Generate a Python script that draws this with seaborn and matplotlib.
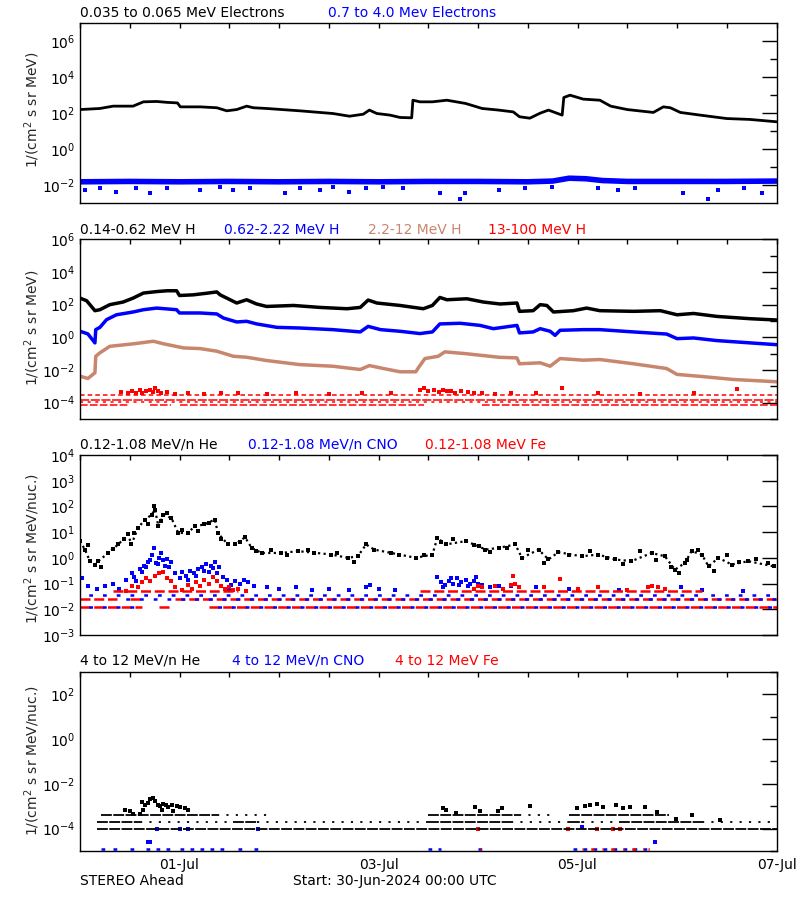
import numpy as np
import seaborn as sns
import matplotlib.pyplot as plt
from matplotlib.ticker import FixedLocator, FuncFormatter, NullFormatter, MultipleLocator

# hours since 30-Jun-2024 00:00 UTC, values as log10 of flux
# --- panel 1: electrons
e_lo_t = [0, 4.8, 8, 12.8, 15.3, 18.5, 21, 23.5, 24.2, 29, 33, 35.4, 37.8, 40.2, 41.8, 45, 53, 61, 65,
          68.3, 69.8, 71.6, 74.8, 77.2, 80, 80.3, 82, 85, 88.5, 93, 97, 101, 104.5, 106, 108.5, 111, 113,
          115, 116.3, 116.7, 118.2, 121.4, 125.4, 128, 132, 138.3, 140.7, 142.4, 144.8, 149.6, 156, 161.6, 168]
e_lo_v = [2.2, 2.26, 2.39, 2.39, 2.63, 2.65, 2.6, 2.57, 2.35, 2.35, 2.3, 2.13, 2.2, 2.39, 2.3, 2.26, 2.13,
          1.98, 1.83, 1.94, 2.17, 1.98, 1.89, 1.76, 1.74, 2.72, 2.63, 2.63, 2.72, 2.54, 2.26, 2.17, 2.07, 1.8,
          1.72, 2.0, 2.17, 2.0, 1.89, 2.87, 3.0, 2.78, 2.72, 2.39, 2.2, 2.04, 2.35, 2.3, 2.04, 1.89, 1.70, 1.65, 1.52]
e_hi_t = [0, 12, 24, 36, 48, 60, 72, 84, 96, 108, 114, 118, 122, 126, 132, 144, 156, 168]
e_hi_v = [-1.82, -1.8, -1.82, -1.8, -1.82, -1.8, -1.82, -1.8, -1.8, -1.82, -1.78, -1.62, -1.65, -1.75,
          -1.8, -1.8, -1.8, -1.78]
e_hi_sc_t = [1.2, 4.8, 8.8, 13.6, 16.9, 20.9, 29, 33.8, 37, 41, 49.4, 53, 57.9, 61, 65, 69, 73, 78, 86.8,
             91.7, 92.9, 101, 107.3, 113.8, 125, 129.8, 133.8, 145.4, 151.4, 153.8, 160.2, 164.6]
e_hi_sc_v = [-2.28, -2.19, -2.37, -2.19, -2.46, -2.19, -2.28, -2.09, -2.28, -2.19, -2.46, -2.19, -2.28,
             -2.09, -2.37, -2.19, -2.09, -2.19, -2.46, -2.8, -2.46, -2.28, -2.19, -2.09, -2.19, -2.28,
             -2.19, -2.46, -2.8, -2.28, -2.19, -2.46]

# --- panel 2: protons
h1_t = [0, 1.6, 3.6, 4.8, 7.2, 10.4, 12.8, 15.3, 18.5, 21, 23.3, 24, 27.3, 30.6, 33, 33.8, 36.2, 37.8,
        40.2, 42.6, 45, 51.5, 57.9, 64.4, 67.6, 69.5, 71.6, 77.2, 82.8, 85, 86.8, 88.5, 93.3, 97.3, 101.3,
        105.4, 106, 109.3, 111, 112.6, 114.2, 119, 122.2, 125.4, 133.5, 140, 144, 148, 153.6, 161.6, 168]
h1_v = [2.40, 2.24, 1.63, 1.69, 2.0, 2.16, 2.40, 2.71, 2.80, 2.85, 2.85, 2.56, 2.6, 2.7, 2.78, 2.6, 2.30,
        2.10, 2.30, 2.04, 1.89, 1.95, 1.83, 1.75, 1.83, 2.28, 2.10, 1.95, 1.75, 1.95, 2.44, 2.3, 2.36, 2.16,
        2.04, 2.10, 1.59, 1.63, 2.0, 1.95, 1.55, 1.63, 1.79, 1.63, 1.59, 1.63, 1.38, 1.46, 1.28, 1.14, 1.06]
h2_t = [0, 1.9, 3.6, 3.8, 4.8, 6.4, 8.8, 12.8, 15.3, 18.5, 23.3, 24, 29, 33, 34.6, 37.8, 40.2, 42.6, 47.5,
        53, 61, 67.6, 69.5, 72.5, 77.2, 82, 85, 86.8, 91.7, 96.5, 99.7, 105.4, 106, 109.3, 111, 113.4, 114.6,
        115.8, 121.4, 125.4, 133.5, 141.5, 144, 148, 153.6, 161.6, 168]
h2_v = [0.37, 0.21, -0.34, 0.47, 0.61, 1.08, 1.38, 1.55, 1.69, 1.79, 1.69, 1.49, 1.49, 1.43, 1.18, 0.94,
        0.98, 0.82, 0.61, 0.57, 0.47, 0.33, 0.67, 0.47, 0.37, 0.23, 0.33, 0.82, 0.86, 0.73, 0.53, 0.73, 0.27,
        0.33, 0.53, 0.37, 0.12, 0.43, 0.47, 0.47, 0.33, 0.20, -0.08, -0.04, -0.2, -0.34, -0.45]
h3_t = [0, 1.9, 3.6, 3.8, 4.8, 7.2, 12.8, 17.7, 20.2, 25, 29, 33, 37, 40.2, 45, 53, 61, 67.6, 69.8, 73.2,
        77.2, 81, 81.6, 83.2, 86.4, 88, 93, 101, 105.4, 106, 111, 113.4, 115.8, 121.4, 125.4, 133.5, 141.5,
        144, 149.6, 157.6, 168]
h3_v = [-2.38, -2.52, -2.17, -1.16, -0.95, -0.55, -0.40, -0.24, -0.40, -0.65, -0.69, -0.85, -1.16, -1.22,
        -1.42, -1.67, -1.77, -1.97, -1.73, -1.91, -2.11, -2.11, -1.87, -1.30, -1.16, -0.89, -1.0, -1.22,
        -1.26, -1.62, -1.56, -1.77, -1.30, -1.40, -1.36, -1.62, -1.91, -2.27, -2.39, -2.58, -2.72]
h4_levels = [-3.54, -3.84, -3.94, -4.15]
h4_spans = [[(0, 168)], [(0, 168)], [(0, 168)], [(0, 11.5), (17, 22), (24, 83), (97, 168)]]
h4_t = [10, 11.5, 12.5, 13.5, 14.5, 15, 16, 16.8, 17.5, 18, 18.8, 19.5, 21, 23, 26, 30, 34, 38, 45, 52,
        60, 68, 75, 82, 83, 84, 85.5, 86.5, 87.5, 88.5, 89.5, 90.5, 92, 93.5, 95, 97, 100, 104, 110, 116.3,
        125, 135, 148, 158.5]
h4_v = [-3.35, -3.42, -3.3, -3.38, -3.25, -3.4, -3.3, -3.22, -3.35, -3.13, -3.3, -3.4, -3.35, -3.45, -3.42,
        -3.45, -3.4, -3.42, -3.45, -3.42, -3.45, -3.4, -3.42, -3.2, -3.1, -3.3, -3.25, -3.35, -3.2, -3.3,
        -3.28, -3.4, -3.3, -3.35, -3.42, -3.4, -3.45, -3.4, -3.42, -3.13, -3.42, -3.45, -3.42, -3.15]

# --- panel 3: 0.12-1.08 MeV/n heavy ions
he_t = [0, 1.2, 2.4, 3.6, 4.4, 6.8, 9.2, 11.6, 12.4, 14, 15.7, 17.3, 18.1, 18.9, 20.1, 22, 23.7, 26, 27.7,
        30, 32.5, 33.3, 35.7, 37.4, 39.8, 41.4, 43.8, 48.6, 52.6, 56.5, 60.6, 64.6, 67, 69, 71, 77, 81, 85,
        86.2, 88.2, 93, 96.2, 97.8, 101, 105, 106.6, 110.6, 113, 115.4, 121, 125, 129, 133, 137.9, 141.1,
        143.5, 145.9, 147.5, 150, 151.6, 154, 157.2, 161.2, 167.3]
he_v = [0.65, 0.32, -0.13, -0.26, -0.13, 0.19, 0.52, 0.91, 0.52, 1.17, 1.49, 1.68, 1.88, 1.23, 1.65, 1.56,
        0.97, 0.97, 1.23, 1.30, 1.49, 0.95, 0.52, 0.52, 0.8, 0.39, 0.19, 0.19, 0.26, 0.2, 0.13, 0.0, 0.06,
        0.52, 0.32, 0.13, 0.0, 0.13, 0.78, 0.52, 0.65, 0.45, 0.32, 0.39, 0.52, 0.0, 0.32, -0.06, 0.22, 0.06,
        0.13, -0.06, -0.13, 0.19, 0.06, -0.46, -0.2, 0.26, 0.13, -0.33, 0.0, -0.26, -0.13, -0.33]
he_sc_t = [2, 5, 8, 10.5, 13, 16.5, 17.8, 19.5, 21, 24.5, 28.5, 31, 34, 38.5, 42.5, 46, 50, 55, 62, 66, 75,
           83, 87, 90, 95, 99, 103, 108, 112, 118, 123, 127, 131, 135, 139, 142.5, 144.5, 146.5, 149, 153,
           156, 159, 163, 166]
he_sc_v = [0.5, -0.35, 0.35, 0.75, 0.95, 1.3, 2.0, 1.45, 1.75, 1.1, 1.05, 1.35, 0.75, 0.62, 0.25, 0.3, 0.1,
           0.3, 0.2, -0.15, 0.2, 0.1, 0.6, 0.72, 0.5, 0.22, 0.4, 0.3, -0.2, 0.1, 0.25, 0.0, -0.25, 0.25, -0.1,
           -0.35, -0.6, -0.1, 0.3, -0.5, 0.1, -0.15, -0.05, -0.2]
cno_t = [0.5, 2, 4, 6, 8, 9.5, 11, 12.5, 13.5, 14.5, 15.5, 16.5, 17.3, 17.8, 18.3, 19, 20, 21, 22, 23, 24.5,
         25.5, 26.5, 27.5, 28.5, 29.5, 30.5, 31.5, 32.5, 33.5, 34.5, 35.5, 36.5, 37.5, 38.5, 39.5, 40.5, 42,
         45, 48, 52, 56, 60, 65, 69, 70, 72, 76, 86, 87, 88, 89, 90, 91, 92, 93, 94, 95, 96, 97, 99, 101, 104,
         110, 118, 130, 145, 150, 160,
         13, 15, 16, 17, 18.8, 19.5, 20.5, 21.5, 24, 26, 28, 30, 31, 32, 33, 36, 87.5, 89.5, 91.5, 93.5, 95.5]
cno_v = [-0.8, -1.1, -1.2, -1.1, -1.0, -1.2, -0.85, -0.6, -0.9, -0.45, -0.3, -0.15, 0.1, 0.4, -0.2, 0.0,
         -0.1, -0.05, -0.15, -0.6, -0.55, -0.7, -0.5, -0.6, -0.45, -0.35, -0.25, -0.3, -0.15, -0.35, -0.75,
         -0.85, -1.05, -0.9, -1.0, -0.85, -0.95, -1.1, -1.15, -1.2, -1.15, -1.25, -1.2, -1.25, -1.15, -1.05,
         -1.2, -1.25, -0.75, -0.95, -1.05, -0.9, -1.0, -0.8, -0.95, -0.85, -1.0, -0.9, -1.0, -1.05, -1.15,
         -1.1, -1.1, -1.15, -1.2, -1.25, -1.15, -1.25, -1.3,
         -0.75, -0.55, -0.35, -0.1, -0.25, 0.2, -0.3, -0.35, -0.8, -0.85, -0.7, -0.5, -0.55, -0.4, -0.6, -1.2,
         -1.15, -0.8, -1.05, -1.1, -0.75]
fe_t = [11, 12.5, 14, 15, 16, 17, 18, 19, 20, 21, 22, 23, 24.5, 26, 27, 28, 29, 30, 31, 32, 33, 34, 35, 36,
        37, 38, 40, 95, 96, 97, 100, 102, 104, 104.5, 105, 106, 112, 115.8, 120, 125, 132, 137, 138, 139.5, 141]
fe_v = [-1.3, -1.1, -1.15, -0.95, -0.8, -0.9, -0.7, -0.6, -0.55, -0.8, -0.9, -1.15, -1.25, -1.05, -1.2,
        -0.95, -1.1, -0.85, -1.0, -0.75, -0.9, -1.1, -1.2, -1.15, -1.25, -1.2, -1.3, -1.2, -1.1, -1.15, -1.1,
        -1.2, -1.05, -0.72, -1.0, -1.15, -1.15, -0.83, -1.2, -1.15, -1.25, -1.15, -1.1, -1.15, -1.2]
p3_levels = [-1.30, -1.43, -1.60, -1.92]
p3_red_spans = [[(8, 38), (82, 150)], [], [(0, 9), (12, 15), (23, 168)], [(0, 15), (19, 22), (31, 168)]]
p3_blue_spans = [[], [(0, 150), (150, 168)], [(9, 168)], [(0, 15), (31, 168)]]

# --- panel 4: 4-12 MeV/n heavy ions
he4_levels = [-4.0, -3.71, -3.38]
he4_spans = [[(4, 168)],
             [(4, 14.5), (37, 42.6), (84, 104), (118, 121), (130, 150)],
             [(5, 33), (84, 106), (118, 142)]]
he4_sparse = [[], [(14.5, 37), (42.6, 84), (104, 118), (121, 130), (150, 168)], [(33, 45), (106, 114)]]
he4_t = [10.9, 12.1, 14.9, 15.7, 16.5, 17, 17.5, 18.1, 18.7, 19.3, 20.1, 20.7, 21.3, 22.1, 23.3, 24.1, 25.3,
         26.1, 12.9, 14.5, 15.3, 19.7, 22.5, 87.6, 88.4, 90.8, 95.3, 96.5, 100.9, 101.7, 108.5, 119.8, 121.8,
         123, 124.6, 126.2, 129.4, 131, 132.6, 136.3, 139.1, 143.7, 147.5, 154.4]
he4_v = [-3.19, -3.2, -2.8, -2.96, -2.86, -2.68, -2.62, -2.75, -2.93, -3.0, -2.9, -2.96, -3.04, -2.96, -3.0,
         -3.04, -3.06, -3.19, -3.35, -3.35, -3.19, -3.19, -3.2, -3.06, -3.19, -3.3, -3.04, -3.2, -3.2, -3.1,
         -3.0, -3.1, -3.0, -2.93, -2.89, -3.04, -2.96, -3.1, -3.04, -3.04, -3.27, -3.56, -3.4, -3.62]
cno4_floor = -4.9
cno4_spans = [(5, 7), (8, 10), (12, 14), (16, 22), (24, 28), (29, 36), (38, 40), (42, 43), (84, 87),
              (96, 98), (119, 138)]
fe4_spans = [(96.5, 97.5), (121, 124), (126, 130), (131, 136), (137, 138)]
cno4_t = [16.5, 17, 18.5, 24, 26, 43, 121, 138.8]
cno4_v = [-4.6, -4.6, -4.0, -4.0, -4.0, -4.0, -3.93, -4.6]
fe4_t = [96, 117.8, 124.6, 128.6, 130.2]
fe4_v = [-4.0, -4.0, -4.0, -4.0, -4.0]

day_labels = {24: "01-Jul", 72: "03-Jul", 120: "05-Jul", 168: "07-Jul"}

BLUE = "#0000ff"
TAN = "#c8866e"
RED = "#ff0000"

sns.set_style("white")
plt.rcParams['font.family'] = ['DejaVu Sans']
plt.rcParams['font.size'] = 10

fig = plt.figure(figsize=(8, 9), dpi=100)


def px_axes(top, bottom):
    return fig.add_axes([80 / 800, 1 - bottom / 900, 696.5 / 800, (bottom - top) / 900])


def setup(ax, lo, hi, majors, minors):
    ax.set_yscale("log")
    ax.set_xlim(0, 168)
    ax.set_ylim(10.0 ** lo, 10.0 ** hi)
    ax.yaxis.set_major_locator(FixedLocator([10.0 ** e for e in majors]))
    ax.yaxis.set_minor_locator(FixedLocator([10.0 ** e for e in minors]))
    ax.yaxis.set_major_formatter(FuncFormatter(lambda v, p: r"$\mathregular{10^{%d}}$" % round(np.log10(v))))
    ax.yaxis.set_minor_formatter(NullFormatter())
    ax.xaxis.set_major_locator(MultipleLocator(12))
    ax.xaxis.set_major_formatter(NullFormatter())
    ax.tick_params(which="both", direction="in", top=True, right=True, colors="black", labelsize=10)
    ax.tick_params(axis="y", which="major", length=11, width=1)
    ax.tick_params(axis="y", which="minor", length=5, width=1)
    ax.tick_params(axis="x", which="major", length=3.5, width=1)
    for s in ax.spines.values():
        s.set_linewidth(1)
        s.set_color("black")
    ax.set_ylabel("")
    ax.set_xlabel("")


def line(ax, t, v, color, lw, ls="-"):
    sns.lineplot(x=t, y=10.0 ** np.array(v), ax=ax, color=color, linewidth=lw, linestyle=ls,
                 estimator=None, sort=False, legend=False)


def dots(ax, t, v, color, s=5):
    sns.scatterplot(x=t, y=10.0 ** np.array(v), ax=ax, color=color, marker="s", s=s,
                    linewidth=0, legend=False)


def rows(ax, level, spans, color, dash, lw=1.2):
    if not spans:
        return
    ax.hlines([10.0 ** level] * len(spans), [a for a, b in spans], [b for a, b in spans],
              colors=color, linewidth=lw, linestyles=dash)


# panel 1
ax1 = px_axes(23.3, 203)
line(ax1, e_hi_t, e_hi_v, BLUE, 4.0)
dots(ax1, e_hi_sc_t, e_hi_sc_v, BLUE, 5)
line(ax1, e_lo_t, e_lo_v, "black", 2.0)
setup(ax1, -3, 7, [-2, 0, 2, 4, 6], [-1, 1, 3, 5])

# panel 2
ax2 = px_axes(239.3, 419)
for lev, sp, dash in zip(h4_levels, h4_spans, [(0, (3, 2)), (0, (6, 1)), (0, (2, 3)), (0, (5, 1.5))]):
    rows(ax2, lev, sp, RED, dash, 1.1)
dots(ax2, h4_t, h4_v, RED, 5)
line(ax2, h3_t, h3_v, TAN, 2.5)
line(ax2, h2_t, h2_v, BLUE, 2.5)
line(ax2, h1_t, h1_v, "black", 2.5)
setup(ax2, -5, 6, [-4, -2, 0, 2, 4, 6], [-5, -3, -1, 1, 3, 5])

# panel 3
ax3 = px_axes(455, 635)
for lev, sp in zip(p3_levels, p3_red_spans):
    rows(ax3, lev, sp, RED, (0, (4, 1.5)), 1.8)
for lev, sp in zip(p3_levels, p3_blue_spans):
    rows(ax3, lev, sp, BLUE, (2, (1.5, 4)), 1.8)
line(ax3, he_t, he_v, "black", 1.6, (0, (1, 1.5)))
dots(ax3, he_t, he_v, "black", 5)
dots(ax3, he_sc_t, he_sc_v, "black", 5)
dots(ax3, cno_t, cno_v, BLUE, 6)
dots(ax3, fe_t, fe_v, RED, 6)
setup(ax3, -3, 4, [-3, -2, -1, 0, 1, 2, 3, 4], [])

# panel 4
ax4 = px_axes(671.7, 851)
for lev, sp in zip(he4_levels, he4_spans):
    rows(ax4, lev, sp, "black", (0, (6, 0.8)), 1.3)
for lev, sp in zip(he4_levels, he4_sparse):
    rows(ax4, lev, sp, "black", (0, (1.2, 4)), 1.3)
dots(ax4, he4_t, he4_v, "black", 6)
rows(ax4, cno4_floor, cno4_spans, BLUE, (0, (1.5, 2.5)), 1.8)
rows(ax4, cno4_floor, fe4_spans, RED, (1, (1.5, 3)), 1.8)
dots(ax4, cno4_t, cno4_v, BLUE, 6)
dots(ax4, fe4_t, fe4_v, RED, 6)
setup(ax4, -5, 3, [-4, -2, 0, 2], [-5, -3, -1, 1, 3])
ax4.xaxis.set_major_formatter(FuncFormatter(lambda v, p: day_labels.get(int(round(v)), "")))
ax4.tick_params(axis="x", pad=5)


# panel titles and labels
def ftext(x, y, s, color="black", **kw):
    fig.text(x / 800, 1 - y / 900, s, color=color, va="center", fontsize=10, **kw)


ftext(80, 13, "0.035 to 0.065 MeV Electrons")
ftext(328, 13, "0.7 to 4.0 Mev Electrons", BLUE)
ftext(80, 230, "0.14-0.62 MeV H")
ftext(224, 230, "0.62-2.22 MeV H", BLUE)
ftext(368, 230, "2.2-12 MeV H", TAN)
ftext(488, 230, "13-100 MeV H", RED)
ftext(80, 445, "0.12-1.08 MeV/n He")
ftext(248, 445, "0.12-1.08 MeV/n CNO", BLUE)
ftext(425, 445, "0.12-1.08 MeV Fe", RED)
ftext(80, 661, "4 to 12 MeV/n He")
ftext(232, 661, "4 to 12 MeV/n CNO", BLUE)
ftext(395, 661, "4 to 12 MeV Fe", RED)
ftext(80, 881, "STEREO Ahead")
ftext(293, 881, "Start: 30-Jun-2024 00:00 UTC")

for yc, lab in [(110, r"1/(cm$^2$ s sr MeV)"), (328, r"1/(cm$^2$ s sr MeV)"),
                (549, r"1/(cm$^2$ s sr MeV/nuc.)"), (761, r"1/(cm$^2$ s sr MeV/nuc.)")]:
    fig.text(32 / 800, 1 - yc / 900, lab, rotation=90, va="center", ha="center", fontsize=10)

fig.savefig("out.png", dpi=100, facecolor="white")
